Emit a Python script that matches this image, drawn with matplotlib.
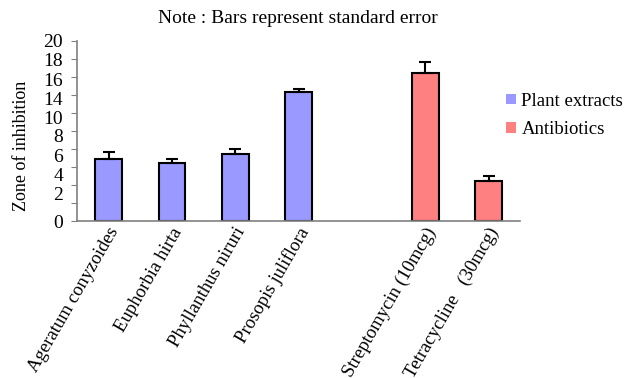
import numpy as np
import matplotlib.pyplot as plt
import matplotlib.transforms as mtransforms
from matplotlib.patches import Patch

plt.rcParams['font.family'] = ['Liberation Serif', 'DejaVu Serif']

labels = ["Ageratum conyzoides", "Euphorbia hirta", "Phyllanthus niruri",
          "Prosopis juliflora", "", "Streptomycin (10mcg)", "Tetracycline   (30mcg)"]
plant_vals = [6.9, 6.4, 7.45, 14.3]
plant_err = [0.8, 0.5, 0.55, 0.4]
anti_vals = [16.4, 4.4]
anti_err = [1.25, 0.6]

# the y labels in the source sit slightly off their ticks
ytick_pos = [0, 2, 4, 6, 8, 10, 12, 14, 16, 18, 20]
ytick_label_pos = [0, 3.07, 5.2, 7.3, 9.46, 11.55, 13.6, 15.7, 17.9, 20]
ytick_label_txt = ["0", "2", "4", "6", "8", "10", "14", "16", "18", "20"]

blue = "#9999FF"
red = "#FF8080"

fig = plt.figure(figsize=(6.26, 3.78), dpi=100)
ax = fig.add_axes([0.123, 0.415, 0.708, 0.477])

x_plant = np.arange(4)
x_anti = np.array([5, 6])
w = 0.42
ekw = dict(elinewidth=1.5, capthick=1.5, capsize=4.5, ecolor="black")
ax.bar(x_plant, plant_vals, w, color=blue, edgecolor="black", linewidth=1.5,
       yerr=[np.zeros(4), plant_err], error_kw=ekw, zorder=2)
ax.bar(x_anti, anti_vals, w, color=red, edgecolor="black", linewidth=1.5,
       yerr=[np.zeros(2), anti_err], error_kw=ekw, zorder=2)

ax.set_xlim(-0.5, 6.5)
ax.set_ylim(0, 20)
ax.set_xticks(np.arange(7))
ax.set_xticklabels(labels, rotation=60, ha="right", va="center",
                   rotation_mode="anchor", fontsize=13.5)
ax.tick_params(axis="x", length=0, pad=0)
shift = mtransforms.ScaledTranslation(0.065, -0.075, fig.dpi_scale_trans)
for lab in ax.get_xticklabels():
    lab.set_transform(lab.get_transform() + shift)

ax.yaxis.remove_overlapping_locs = False
ax.set_yticks(ytick_pos)
ax.set_yticklabels([])
ax.tick_params(axis="y", which="major", length=4, color="#808080", direction="out")
ax.set_yticks(ytick_label_pos, minor=True)
ax.set_yticklabels(ytick_label_txt, minor=True, fontsize=14)
ax.tick_params(axis="y", which="minor", length=0, pad=10)

for s in ["top", "right"]:
    ax.spines[s].set_visible(False)
for s in ["left", "bottom"]:
    ax.spines[s].set_color("#808080")
    ax.spines[s].set_linewidth(1.2)

ax.set_ylabel("Zone of inhibition", fontsize=13)
ax.yaxis.set_label_coords(-0.105, 0.417)

fig.text(0.476, 0.95, "Note : Bars represent standard error", ha="center",
         va="center", fontsize=14)

handles = [Patch(facecolor=blue, edgecolor="none", label="Plant extracts"),
           Patch(facecolor=red, edgecolor="none", label="Antibiotics")]
fig.legend(handles=handles, loc="upper left", bbox_to_anchor=(0.809, 0.755),
           frameon=False, fontsize=13.5, handlelength=0.5, handleheight=0.5,
           handletextpad=0.3, labelspacing=0.6, borderaxespad=0, borderpad=0)

fig.savefig("out.png", dpi=100)
